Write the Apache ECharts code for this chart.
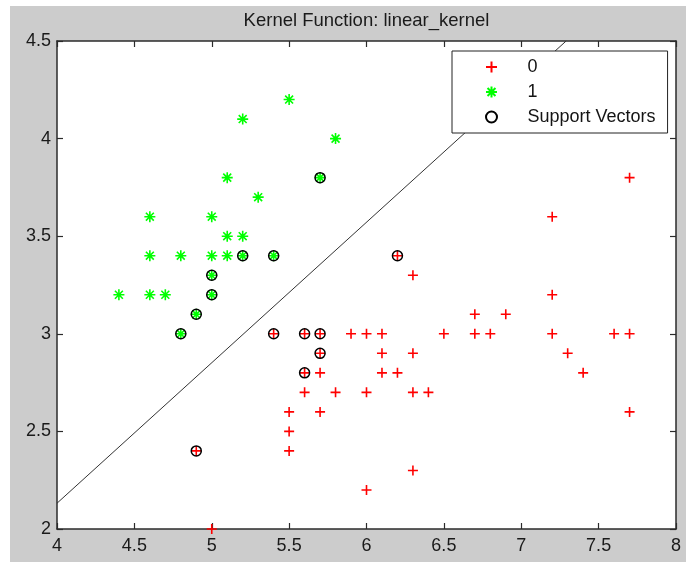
<!DOCTYPE html>
<html>
<head>
<meta charset="utf-8">
<script src="https://cdn.jsdelivr.net/npm/echarts@6/dist/echarts.min.js"></script>
<style>
  html, body { margin: 0; padding: 0; background: #ffffff; }
  #chart { position: absolute; left: 10px; top: 6px; width: 676px; height: 556px; }
</style>
</head>
<body>
<div id="chart"></div>
<script>
// Class 0 samples (sepal length, sepal width)
const class0X = [5.0, 4.9, 5.4, 5.6, 5.7, 5.9, 6.0, 6.1, 6.5, 6.7, 6.8, 7.2, 7.6, 7.7,
                 5.7, 6.1, 6.3, 7.3, 5.6, 5.7, 6.1, 6.2, 7.4, 5.6, 5.8, 6.0, 6.3, 6.4,
                 5.5, 5.7, 7.7, 5.5, 5.5, 6.3, 6.0, 6.2, 6.3, 6.7, 6.9, 7.2, 7.2, 7.7];
const class0Y = [2.0, 2.4, 3.0, 3.0, 3.0, 3.0, 3.0, 3.0, 3.0, 3.0, 3.0, 3.0, 3.0, 3.0,
                 2.9, 2.9, 2.9, 2.9, 2.8, 2.8, 2.8, 2.8, 2.8, 2.7, 2.7, 2.7, 2.7, 2.7,
                 2.6, 2.6, 2.6, 2.5, 2.4, 2.3, 2.2, 3.4, 3.3, 3.1, 3.1, 3.2, 3.6, 3.8];

// Class 1 samples
const class1X = [5.5, 5.2, 5.8, 5.7, 5.1, 5.3, 4.6, 5.0, 5.1, 5.2, 4.6, 4.8,
                 5.0, 5.1, 5.2, 5.4, 5.0, 4.4, 4.6, 4.7, 5.0, 4.9, 4.8];
const class1Y = [4.2, 4.1, 4.0, 3.8, 3.8, 3.7, 3.6, 3.6, 3.5, 3.5, 3.4, 3.4,
                 3.4, 3.4, 3.4, 3.4, 3.3, 3.2, 3.2, 3.2, 3.2, 3.1, 3.0];

// Support vectors
const svX = [5.7, 5.2, 5.4, 5.0, 5.0, 4.9, 4.8, 5.4, 5.6, 5.7, 5.7, 5.6, 6.2, 4.9];
const svY = [3.8, 3.4, 3.4, 3.3, 3.2, 3.1, 3.0, 3.0, 3.0, 3.0, 2.9, 2.8, 3.4, 2.4];

// Separating line (end points on the axes box)
const boundaryX = [4.0, 7.29];
const boundaryY = [2.132, 4.5];

// Axis ticks
const xTicks = [4, 4.5, 5, 5.5, 6, 6.5, 7, 7.5, 8];
const yTicks = [2, 2.5, 3, 3.5, 4, 4.5];

const seriesNames = ['0', '1', 'Support Vectors'];
const titleText = 'Kernel Function: linear_kernel';

const zip = (xs, ys) => xs.map((x, i) => [x, ys[i]]);

const PLUS = 'path://M-1,0L1,0M0,-1L0,1';
const STAR = 'path://M-1,0L1,0M0,-1L0,1M-0.72,-0.72L0.72,0.72M-0.72,0.72L0.72,-0.72';

const FONT = '"Liberation Sans", Arial, sans-serif';
const frameColor = '#2b2b2b';

function makeX(pos, showLabels) {
  return {
    type: 'value', position: pos,
    min: xTicks[0], max: xTicks[xTicks.length - 1], interval: xTicks[1] - xTicks[0],
    axisLine: { show: true, onZero: false, lineStyle: { color: frameColor, width: 1.5 } },
    axisTick: { show: true, inside: true, length: 6, lineStyle: { color: frameColor, width: 1.2 } },
    axisLabel: { show: showLabels, margin: 8, color: '#1a1a1a', fontSize: 18, fontFamily: FONT,
                 formatter: v => String(v) },
    splitLine: { show: false }
  };
}
function makeY(pos, showLabels) {
  return {
    type: 'value', position: pos,
    min: yTicks[0], max: yTicks[yTicks.length - 1], interval: yTicks[1] - yTicks[0],
    axisLine: { show: true, onZero: false, lineStyle: { color: frameColor, width: 1.5 } },
    axisTick: { show: true, inside: true, length: 6, lineStyle: { color: frameColor, width: 1.2 } },
    axisLabel: { show: showLabels, margin: 6, color: '#1a1a1a', fontSize: 18, fontFamily: FONT,
                 formatter: v => String(v) },
    splitLine: { show: false }
  };
}

const chart = echarts.init(document.getElementById('chart'), null, { renderer: 'canvas' });

chart.setOption({
  backgroundColor: '#cccccc',
  animation: false,
  title: {
    text: titleText, left: 356.5, textAlign: 'center', top: 5, padding: 0,
    textStyle: { fontSize: 18.5, fontWeight: 'normal', color: '#1a1a1a', fontFamily: FONT }
  },
  grid: {
    left: 47, top: 35, width: 619, height: 488,
    show: true, backgroundColor: '#ffffff', borderWidth: 0
  },
  xAxis: [makeX('bottom', true), makeX('top', false)],
  yAxis: [makeY('left', true), makeY('right', false)],
  legend: {
    data: seriesNames,
    orient: 'vertical',
    left: 442, top: 45,
    padding: [7, 12, 7, 33],
    itemWidth: 62, itemHeight: 11, itemGap: 7,
    backgroundColor: '#ffffff',
    borderColor: '#222222', borderWidth: 1,
    textStyle: { fontSize: 18, lineHeight: 18, color: '#141414', fontFamily: FONT }
  },
  series: [
    {
      name: 'boundary', type: 'line', data: zip(boundaryX, boundaryY),
      showSymbol: false, symbol: 'none', silent: true, z: 1,
      lineStyle: { color: '#333333', width: 1 }
    },
    {
      name: seriesNames[0], type: 'scatter', data: zip(class0X, class0Y),
      symbol: PLUS, symbolSize: 10, clip: false, z: 2,
      itemStyle: { color: 'rgba(0,0,0,0)', borderColor: '#ff0000', borderWidth: 1.6, opacity: 1 }
    },
    {
      name: seriesNames[1], type: 'scatter', data: zip(class1X, class1Y),
      symbol: STAR, symbolSize: 11, clip: false, z: 2,
      itemStyle: { color: 'rgba(0,0,0,0)', borderColor: '#00ff00', borderWidth: 1.6, opacity: 1 }
    },
    {
      name: seriesNames[2], type: 'scatter', data: zip(svX, svY),
      symbol: 'circle', symbolSize: 10, clip: false, z: 3,
      itemStyle: { color: 'rgba(0,0,0,0)', borderColor: '#000000', borderWidth: 1.5, opacity: 1 }
    }
  ]
});
</script>
</body>
</html>
